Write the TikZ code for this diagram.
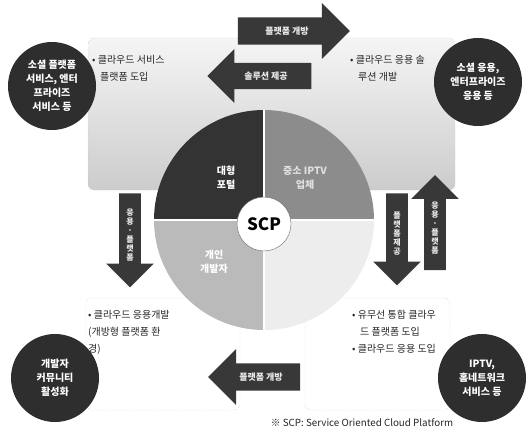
\documentclass[tikz,border=0pt]{standalone}
\usepackage{fontspec}
\setmainfont{Noto Sans CJK KR}
\usepackage{tikz}
\usetikzlibrary{positioning}
\usetikzlibrary{shapes.arrows}
\tikzstyle{actor} = [circle, minimum size=88pt, inner sep=0pt, fill=black!82, text=white, font=\fontsize{10}{14}\selectfont\bfseries, align=center]
\tikzstyle{panel} = [draw=black!45, dotted, rounded corners=6pt]
\tikzstyle{note} = [anchor=north west, align=left, font=\fontsize{10}{17}\selectfont, inner sep=0pt, text=black!85]
\tikzstyle{blockarrow} = [single arrow, fill=black!78, text=black!8, font=\fontsize{9}{10}\selectfont\bfseries, single arrow head extend=13pt, inner sep=8pt, align=center]
\tikzstyle{quad} = [font=\fontsize{10}{14}\selectfont\bfseries, align=center, text=white]

\begin{document}
\begin{tikzpicture}[x=1pt, y=-1pt]

	\useasboundingbox (0,0) rectangle (531,444);

	\node (topPanel) [panel, top color=black!4, bottom color=black!20, minimum width=367pt, minimum height=152pt] at (271.5,114) {};

	\node (leftPanel) [panel, minimum width=154pt, minimum height=112pt] at (163,354) {};

	\node (rightPanel) [panel, minimum width=145pt, minimum height=112pt] at (377.5,354) {};

	\coordinate (pc) at (264,220);

	\fill[black!80] (pc) -- ++(180:110pt) arc[start angle=180, end angle=90, radius=110pt] -- cycle;
	\fill[black!45] (pc) -- ++(90:110pt) arc[start angle=90, end angle=0, radius=110pt] -- cycle;
	\fill[black!27] (pc) -- ++(180:110pt) arc[start angle=180, end angle=270, radius=110pt] -- cycle;
	\fill[black!7] (pc) -- ++(270:110pt) arc[start angle=270, end angle=360, radius=110pt] -- cycle;
	\draw[white, line width=2pt] (pc) ++(180:110pt) -- ++(0:220pt);
	\draw[white, line width=2pt] (pc) ++(90:110pt) -- ++(270:220pt);

	\node (portal) [quad] at (226,178) {대형\\포털};

	\node (iptv) [quad, text=black!12] at (305,178) {중소 IPTV\\업체};

	\node (dev) [quad] at (214,262) {개인\\개발자};

	\node (scp) [circle, fill=white, draw=black!60, minimum size=54pt, font=\fontsize{17}{17}\selectfont\bfseries] at (264,224) {SCP};

	\node (social) [actor] at (52,86) {소셜 플랫폼\\서비스, 엔터\\프라이즈\\서비스 등};

	\node (socialApp) [actor] at (478,82) {소셜 응용,\\엔터프라이즈\\응용 등};

	\node (devComm) [actor] at (55,378) {개발자\\커뮤니티\\활성화};

	\node (homeNet) [actor] at (482,378) {IPTV,\\홈네트워크\\서비스 등};

	\node (openTop) [blockarrow, minimum height=112pt, minimum width=56pt] at (287,31) {플랫폼 개방};

	\node (solTop) [blockarrow, shape border rotate=180, minimum height=104pt, minimum width=54pt] at (266,76) {솔루션 제공};

	\node (openBot) [blockarrow, shape border rotate=180, minimum height=92pt, minimum width=56pt] at (261,377) {플랫폼 개방};

	\node (appLeft) [blockarrow, shape border rotate=270, font=\fontsize{8}{9}\selectfont\bfseries, inner sep=7pt, minimum height=94pt, minimum width=46pt] at (130,235) {응\\용\\·\\플\\랫\\폼};

	\node (pfRight) [blockarrow, shape border rotate=270, font=\fontsize{8}{9}\selectfont\bfseries, inner sep=7pt, minimum height=92pt, minimum width=46pt] at (397,234) {플\\랫\\폼\\제\\공};

	\node (appUp) [blockarrow, shape border rotate=90, font=\fontsize{8}{9}\selectfont\bfseries, inner sep=7pt, minimum height=95pt, minimum width=46pt] at (435,228) {응\\용\\·\\플\\랫\\폼};

	\node (tlNote) [note] at (92,55) {• 클라우드 서비스\\\hspace{8pt}플랫폼 도입};

	\node (trNote) [note] at (350,55) {• 클라우드 응용 솔\\\hspace{8pt}루션 개발};

	\node (blNote) [note] at (88,310) {• 클라우드 응용개발\\(개방형 플랫폼 환\\경)};

	\node (brNote) [note] at (352,310) {• 유무선 통합 클라우\\\hspace{8pt}드 플랫폼 도입\\• 클라우드 응용 도입};

	\node (footnote) [font=\fontsize{9.8}{10}\selectfont, text=black!85] at (362,423) {※ SCP: Service Oriented Cloud Platform};

\end{tikzpicture}
\end{document}
